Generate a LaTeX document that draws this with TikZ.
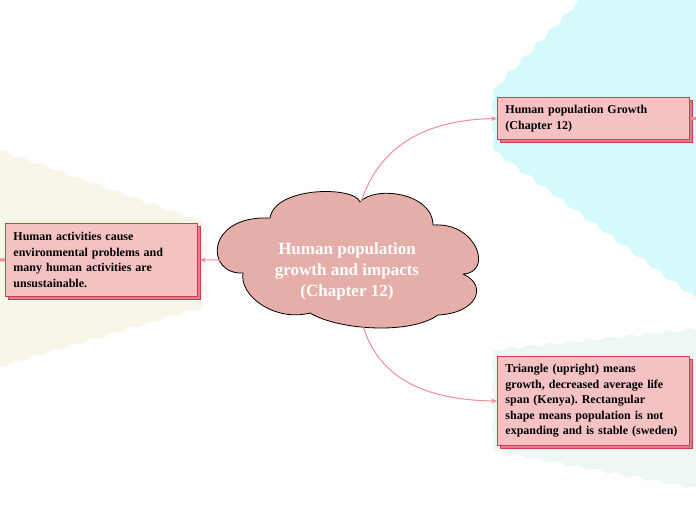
\documentclass[tikz,border=0pt]{standalone}
\usepackage{fontspec}
\setmainfont{Liberation Serif}
\usetikzlibrary{shadows,decorations.pathmorphing,arrows.meta}
\definecolor{beige}{HTML}{F8F5E9}
\definecolor{cyanbg}{HTML}{D6F9FC}
\definecolor{mintbg}{HTML}{EEF8F3}
\definecolor{cloudfill}{HTML}{E5AEA9}
\definecolor{boxfill}{HTML}{F4C2C3}
\definecolor{boxline}{HTML}{D23A52}
\definecolor{boxshadow}{HTML}{E07C8B}
\definecolor{linkcol}{HTML}{F28B9B}
\frenchspacing
\tikzset{
  wavy/.style={decorate,decoration={snake,segment length=20pt,amplitude=1.5pt}},
  topicbox/.style={rectangle,draw=boxline,line width=0.9pt,fill=boxfill,
    text width=176pt,align=left,inner xsep=8pt,inner ysep=0pt,
    font=\bfseries\fontsize{12}{15.5}\selectfont,
    copy shadow={shadow xshift=2.5pt,shadow yshift=-2.5pt,fill=boxshadow,draw=boxline,line width=0.6pt}},
  cloudtext/.style={align=center,text=white,font=\bfseries\fontsize{17}{21}\selectfont},
  link/.style={draw=linkcol,line width=1pt,-{Stealth[length=6pt,width=5pt]}},
  stub/.style={draw=linkcol,line width=3pt}
}
\begin{document}
\begin{tikzpicture}[x=1pt,y=-1pt]
\useasboundingbox (0,0) rectangle (696,520);
\clip (0,0) rectangle (696,520);
% backgrounds
\fill[beige] (-20,143) decorate[wavy]{-- (203,222)} decorate[wavy]{-- (203,307)} decorate[wavy]{-- (-20,372)} -- cycle;
\fill[cyanbg] (590,-10) decorate[wavy]{-- (493,90)} decorate[wavy]{-- (493,150)} decorate[wavy]{-- (705,305)} -- (705,-10) -- cycle;
\fill[mintbg] (705,328) decorate[wavy]{-- (493,350)} decorate[wavy]{-- (493,451)} decorate[wavy]{-- (705,490)} -- cycle;
% central cloud
\draw[fill=cloudfill,line width=0.8pt,line join=round]
  (243,273) .. controls (205,275) and (205,215) .. (270,218)
  .. controls (275,186) and (355,186) .. (360,202)
  .. controls (375,185) and (433,193) .. (433,225)
  .. controls (478,222) and (493,273) .. (463,274)
  .. controls (488,285) and (478,313) .. (438,315)
  .. controls (410,335) and (338,330) .. (310,313)
  .. controls (275,322) and (239,296) .. (243,273) -- cycle;
\node[cloudtext] (c) at (347,271) {Human population\\growth and impacts\\(Chapter 12)};
\coordinate (ctop) at (361,202);
\coordinate (cbot) at (363,326);
\coordinate (cleft) at (221,260);
% topic boxes
\node[topicbox,minimum height=73pt,anchor=north west] (lb) at (5,223)
  {Human activities cause\\environmental problems and\\many human activities are\\unsustainable.};
\node[topicbox,minimum height=42pt,anchor=north west] (tr) at (497,97)
  {Human population Growth\\(Chapter 12)};
\node[topicbox,minimum height=89pt,anchor=north west] (br) at (497,356)
  {Triangle (upright) means\\growth, decreased average life\\span (Kenya). Rectangular\\shape means population is not\\expanding and is stable (sweden)};
% connectors
\path[link] (cleft) -- ([xshift=2pt]lb.east);
\path[link] (ctop) .. controls (378,150) and (420,120) .. (tr.west);
\path[link] (cbot) .. controls (378,375) and (420,400) .. (br.west);
\coordinate (lout) at (-10,260);
\coordinate (rout) at (710,118);
\path[stub] (lb.west) -- (lout);
\path[stub] ([xshift=1pt]tr.east) -- (rout);
\end{tikzpicture}
\end{document}
